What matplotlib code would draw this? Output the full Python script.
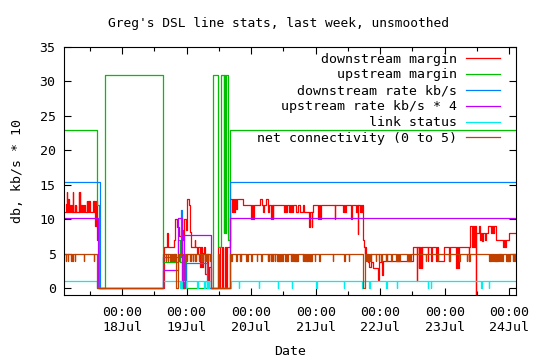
import numpy as np
import pandas as pd
import matplotlib
matplotlib.use('Agg')
import matplotlib.pyplot as plt
import matplotlib.dates as mdates

plt.rcParams['font.family'] = ['DejaVu Sans Mono']
plt.rcParams['font.size'] = 9.5

# time is counted in hours from 17Jul 00:00
start = pd.Timestamp('2007-07-17 00:00')
t_first, t_last = 2.4, 170.5

# downstream margin (db): (hour, value) step points
red_pts = [
    (2.4, 11.0), (3.1, 12.2), (3.5, 14.0), (3.7, 11.0), (3.9, 12.9), (4.1, 11.0),
    (4.7, 12.0), (5.0, 11.0), (5.2, 12.0), (5.4, 11.0), (5.7, 14.0), (5.9, 11.0),
    (6.4, 12.0), (6.6, 11.0), (6.8, 12.0), (7.0, 11.0), (7.9, 14.0), (8.1, 11.0),
    (8.3, 14.0), (8.5, 12.0), (8.8, 11.0), (9.1, 12.0), (9.4, 11.0), (9.7, 12.0),
    (10.1, 11.0), (10.8, 12.7), (11.1, 11.0), (11.3, 12.7), (11.6, 11.0), (11.8, 12.7),
    (12.1, 11.0), (13.2, 12.7), (13.5, 11.0), (13.7, 12.7), (14.0, 9.0), (14.2, 12.7),
    (14.5, 11.0), (14.7, 7.0), (15.3, 0.0),
    (39.5, 6.0), (40.7, 8.0), (41.0, 6.0), (43.4, 7.0), (43.8, 10.0), (44.6, 8.9),
    (45.3, 7.5), (45.8, 8.5), (46.6, 7.0), (47.0, 10.0), (47.7, 8.5), (48.1, 12.9),
    (48.9, 12.0), (49.4, 8.2), (49.8, 6.0), (51.0, 7.0), (51.3, 6.0), (52.0, 5.1),
    (52.3, 6.0), (53.1, 3.1), (53.4, 6.0), (53.7, 3.1), (54.2, 5.1), (54.6, 6.0),
    (55.0, 2.1), (55.5, 5.0), (55.9, 1.0), (56.4, 3.0), (56.9, 1.0), (57.2, 0.0),
    (59.7, 6.0), (60.6, 0.0), (61.0, 6.0), (61.6, 0.0), (62.3, 6.0), (62.8, 0.0),
    (63.2, 6.0),
    (64.0, 12.9), (64.8, 11.0), (65.2, 12.9), (65.6, 11.0), (66.0, 12.9), (66.3, 11.5),
    (66.8, 12.9), (69.0, 12.0), (72.1, 10.1), (72.4, 12.0), (72.7, 10.1), (73.1, 12.0),
    (75.2, 12.9), (75.9, 12.0), (76.4, 11.0), (76.6, 12.0), (77.6, 12.9), (78.2, 11.0),
    (78.5, 12.0), (79.5, 10.1), (79.8, 12.0), (80.0, 10.1), (80.2, 12.0), (84.4, 11.0),
    (84.6, 12.0), (85.0, 11.0), (85.2, 12.0), (85.9, 11.0), (86.3, 12.0), (86.6, 11.0),
    (87.0, 12.0), (87.3, 11.0), (87.6, 12.0), (88.8, 11.0), (89.5, 12.0), (90.2, 11.0),
    (91.3, 12.0), (91.8, 11.0), (93.6, 8.9), (93.8, 11.0), (94.5, 8.9), (94.7, 11.0),
    (95.0, 12.0), (96.8, 10.1), (97.2, 12.0), (97.5, 10.1), (98.0, 12.0), (103.0, 10.1),
    (103.2, 12.0), (106.1, 11.0), (106.5, 12.0), (106.8, 11.0), (107.3, 12.0),
    (109.2, 10.1), (109.4, 12.0), (111.1, 11.0), (111.5, 12.0), (111.7, 7.9),
    (111.9, 12.0), (112.3, 11.0), (112.7, 12.0), (112.9, 11.0), (113.3, 12.0),
    (113.6, 7.0), (113.9, 5.9), (114.2, 5.0), (114.4, 5.9), (114.6, 5.0), (115.4, 3.8),
    (115.9, 3.1), (116.6, 3.8), (117.2, 2.9), (119.3, 1.2), (119.5, 2.9), (119.7, 3.8),
    (120.7, 1.9), (121.2, 3.9),
    (132.1, 5.9), (133.6, 1.0), (133.8, 5.9), (134.3, 2.95), (134.6, 5.9), (134.9, 2.95),
    (135.3, 5.9), (135.5, 2.95), (135.7, 5.9), (137.7, 3.9), (137.9, 5.9), (139.0, 3.9),
    (139.2, 5.9), (140.8, 3.9), (141.2, 5.9), (141.5, 3.9), (143.9, 5.9), (145.7, 3.9),
    (146.0, 5.9), (148.2, 2.95), (148.6, 5.9), (148.9, 2.95), (149.4, 5.9), (152.9, 3.9),
    (153.1, 5.9), (153.5, 9.0), (154.2, 5.9), (154.5, 9.0), (154.9, 5.9), (155.3, 9.0),
    (155.7, -1.0), (155.8, 8.0), (156.6, 9.0), (157.0, 7.0), (157.4, 8.0), (157.8, 6.9),
    (158.3, 8.0), (158.8, 7.0), (159.2, 8.0), (160.0, 9.0), (161.2, 8.0), (161.6, 9.0),
    (162.0, 8.0), (162.4, 9.0), (163.1, 7.0), (165.5, 6.0), (165.9, 7.0), (166.3, 6.0),
    (166.7, 7.0), (168.0, 8.0), (170.5, 8.0),
]

# upstream margin (db)
green_pts = [
    (2.4, 23.0), (14.7, 12.0), (15.4, 0.0), (17.7, 31.0), (39.2, 3.8), (44.8, 7.0),
    (45.4, 3.8), (47.8, 0.0), (57.9, 31.0), (59.8, 6.0), (60.8, 31.0), (61.8, 8.0),
    (62.0, 31.0), (62.2, 8.0), (62.5, 31.0), (63.5, 7.0), (64.3, 23.0), (170.5, 23.0),
]

# downstream rate kb/s (/100)
blue_pts = [
    (2.4, 15.4), (15.9, 0.0), (39.4, 4.5), (45.8, 11.4), (46.3, 0.0), (47.6, 3.7),
    (55.4, 0.0), (64.1, 15.4), (170.5, 15.4),
]

# upstream rate kb/s * 4 (/100)
magenta_pts = [
    (2.4, 10.2), (14.9, 0.0), (39.2, 2.6), (44.8, 10.2), (46.3, 0.0), (47.0, 7.7),
    (57.2, 0.0), (64.2, 10.2), (170.5, 10.2),
]

# link status: 1 = up, spans where it was 0
link_down = [
    (14.7, 39.2), (45.4, 45.6), (45.9, 46.1), (47.6, 47.8), (51.9, 52.1), (54.6, 54.8),
    (55.5, 55.7), (56.0, 56.3), (57.2, 64.4), (67.5, 67.6), (74.9, 75.0), (81.9, 82.0),
    (87.1, 87.2), (96.1, 96.4), (106.5, 106.6), (113.2, 113.5), (116.0, 116.1),
    (122.1, 122.4), (126.2, 126.3), (137.7, 137.8), (138.9, 139.0), (157.4, 157.7),
    (160.3, 160.4),
]

# net connectivity (0 to 5): spans at 0 and spans at 4, otherwise 5
net_zero = [(14.7, 39.2), (44.2, 44.8), (46.7, 47.4), (57.2, 59.6), (59.9, 64.0),
            (113.7, 114.2)]
net_four = [
    (3.1, 3.2), (3.9, 4.0), (4.9, 5.0), (5.2, 5.3), (5.5, 5.6), (5.7, 5.8), (6.4, 6.5),
    (9.9, 10.0), (13.6, 13.7),
    (40.2, 40.3), (41.1, 41.2), (42.0, 42.1), (42.7, 42.9), (43.2, 43.3), (43.5, 43.6),
    (45.1, 45.3), (47.7, 47.9), (48.1, 48.3), (49.1, 49.3), (49.5, 49.8), (50.4, 50.5),
    (51.0, 51.2), (51.4, 51.6), (52.6, 52.7), (53.5, 53.7), (53.9, 54.1), (54.7, 54.9),
    (55.1, 55.3), (55.5, 55.7), (55.8, 56.0), (56.6, 56.8), (57.0, 57.2),
    (64.6, 64.7), (66.5, 66.6), (67.7, 67.9), (68.2, 68.4), (70.2, 70.4), (70.6, 70.8),
    (72.1, 72.2), (74.2, 74.3), (75.8, 75.9), (78.2, 78.4), (78.6, 78.8), (79.3, 79.5),
    (79.7, 79.9), (80.1, 80.3), (80.8, 81.0), (81.7, 81.9), (82.1, 82.3), (82.5, 82.7),
    (82.8, 83.0), (83.5, 83.7), (83.8, 84.0), (84.6, 84.8), (85.0, 85.2), (85.4, 85.7),
    (86.7, 86.9), (87.1, 87.3), (87.4, 87.6), (88.0, 88.2), (88.4, 88.6), (88.8, 89.0),
    (89.2, 89.4), (91.2, 91.4), (91.6, 92.0), (92.4, 92.6), (92.8, 93.2), (93.6, 93.8),
    (94.0, 94.2), (94.4, 94.6), (95.6, 95.7), (97.4, 97.5), (102.4, 102.5),
    (106.7, 106.8), (108.3, 108.4), (114.8, 115.0), (115.2, 115.4), (115.6, 115.8),
    (116.0, 116.2), (116.4, 116.6), (118.5, 118.6), (119.4, 119.5), (120.4, 120.5),
    (122.0, 122.2), (122.4, 122.6), (124.1, 124.2), (125.9, 126.1), (126.3, 126.5),
    (126.7, 126.9), (127.1, 127.4), (130.0, 130.2), (130.4, 130.6), (130.8, 131.0),
    (131.2, 131.5), (137.1, 137.2), (141.4, 141.5), (145.7, 145.8), (149.4, 149.5),
    (152.2, 152.3), (153.2, 153.3), (160.6, 160.8), (161.0, 161.2), (161.4, 161.8),
    (162.4, 162.6), (162.8, 163.0), (163.1, 163.3), (163.6, 163.8), (164.0, 164.2),
    (164.4, 164.6), (164.8, 165.0), (165.2, 165.5), (166.8, 167.0), (167.2, 167.4),
    (167.6, 167.8), (168.0, 168.3), (169.2, 169.4), (169.6, 169.8), (170.0, 170.2),
]


def from_pts(pts):
    t = [p[0] for p in pts]
    v = [p[1] for p in pts]
    return t, v


def from_spans(base, spans):
    # spans: (t0, t1, value); base value elsewhere
    t, v = [t_first], [base]
    for a, b, val in sorted(spans):
        t += [a, b]
        v += [val, base]
    t.append(t_last)
    v.append(base)
    return t, v


def to_dates(hours):
    return start + pd.to_timedelta(np.asarray(hours), unit='h')


series = [
    ('downstream margin', '#ff0000', from_pts(red_pts)),
    ('upstream margin', '#00c000', from_pts(green_pts)),
    ('downstream rate kb/s', '#0080ff', from_pts(blue_pts)),
    ('upstream rate kb/s * 4', '#c000ff', from_pts(magenta_pts)),
    ('link status', '#00eeee', from_spans(1, [(a, b, 0) for a, b in link_down])),
    ('net connectivity (0 to 5)', '#c04000',
     from_spans(5, [(a, b, 0) for a, b in net_zero] + [(a, b, 4) for a, b in net_four])),
]

fig = plt.figure(figsize=(5.4, 3.6), dpi=100)
ax = fig.add_axes([64 / 540, 1 - 295 / 360, 452 / 540, 248 / 360])

for label, color, (t, v) in series:
    ax.plot(to_dates(t), v, drawstyle='steps-post', color=color, lw=0.9, label=label)

ax.set_xlim(to_dates([t_first])[0], to_dates([t_last])[0])
ax.set_ylim(-1, 35)
ax.set_yticks(range(0, 36, 5))

ax.xaxis.set_major_locator(mdates.DayLocator())
ax.xaxis.set_minor_locator(mdates.HourLocator(byhour=[12]))
ax.xaxis.set_major_formatter(mdates.DateFormatter('%H:%M\n%d%b'))

ax.tick_params(which='both', direction='in', top=True, right=True, width=0.8)
ax.tick_params(which='major', length=5, pad=8)
ax.tick_params(which='minor', length=3)
ax.tick_params(axis='y', pad=6)
for s in ax.spines.values():
    s.set_linewidth(0.8)

ax.set_xlabel('Date', labelpad=8)
ax.set_ylabel('db, kb/s * 10', labelpad=11)
fig.text(279 / 540, 1 - 23 / 360, "Greg's DSL line stats, last week, unsmoothed",
         ha='center', va='center', fontsize=9.3)

ax.legend(loc='upper right', bbox_to_anchor=(0.989, 1.02), frameon=False, markerfirst=False,
          handlelength=2.6, handletextpad=0.7, labelspacing=0.22, borderaxespad=0.4)

fig.savefig('out.png', dpi=100)
